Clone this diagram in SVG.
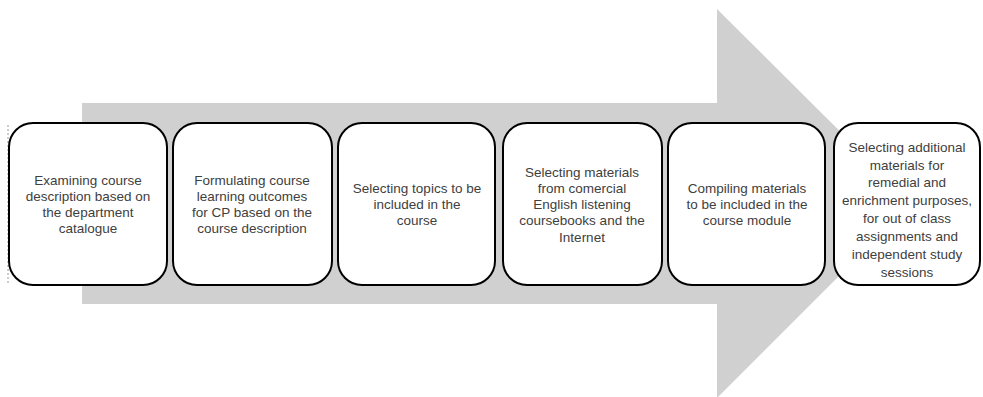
<svg xmlns="http://www.w3.org/2000/svg" width="983" height="397" viewBox="0 0 983 397">
<style>
.box{fill:#fff;stroke:#000;stroke-width:2}
.t{font-family:"Liberation Sans",Arial,sans-serif;font-size:13.5px;fill:#404040;text-anchor:middle;dominant-baseline:central}
</style>
<rect width="983" height="397" fill="#fff"/>
<g id="arrow">
<polygon points="82,103 717,103 717,9 912,203 717,398 717,304 82,304" fill="#d0d0d0"/>
</g>
<g id="connectors"></g>
<g id="n1">
<line x1="8" y1="125" x2="8" y2="285" stroke="#999" stroke-width="1" stroke-dasharray="2,2"/>
<rect class="box" x="9" y="123" width="158" height="162" rx="24"/>
<text class="t"><tspan x="88" y="180">Examining course</tspan><tspan x="88" y="196">description based on</tspan><tspan x="88" y="212">the department</tspan><tspan x="88" y="228">catalogue</tspan></text>
</g>
<g id="n2">
<rect class="box" x="173" y="123" width="159" height="162" rx="24"/>
<text class="t"><tspan x="252" y="180">Formulating course</tspan><tspan x="252" y="196">learning outcomes</tspan><tspan x="252" y="212">for CP based on the</tspan><tspan x="252" y="228">course description</tspan></text>
</g>
<g id="n3">
<rect class="box" x="338" y="123" width="157" height="162" rx="24"/>
<text class="t"><tspan x="417" y="188">Selecting topics to be</tspan><tspan x="417" y="204">included in the</tspan><tspan x="417" y="220">course</tspan></text>
</g>
<g id="n4">
<rect class="box" x="503" y="123" width="159" height="162" rx="24"/>
<text class="t"><tspan x="582" y="172">Selecting materials</tspan><tspan x="582" y="188">from comercial</tspan><tspan x="582" y="204">English listening</tspan><tspan x="582" y="220">coursebooks and the</tspan><tspan x="582" y="237">Internet</tspan></text>
</g>
<g id="n5">
<rect class="box" x="668" y="123" width="157" height="162" rx="24"/>
<text class="t"><tspan x="747" y="188">Compiling materials</tspan><tspan x="747" y="204">to be included in the</tspan><tspan x="747" y="220">course module</tspan></text>
</g>
<g id="n6">
<rect class="box" x="834" y="123" width="146" height="162" rx="24"/>
<text class="t"><tspan x="907" y="147">Selecting additional</tspan><tspan x="907" y="165">materials for</tspan><tspan x="907" y="182">remedial and</tspan><tspan x="907" y="200">enrichment purposes,</tspan><tspan x="907" y="218">for out of class</tspan><tspan x="907" y="236">assignments and</tspan><tspan x="907" y="254">independent study</tspan><tspan x="907" y="272">sessions</tspan></text>
</g>
</svg>
